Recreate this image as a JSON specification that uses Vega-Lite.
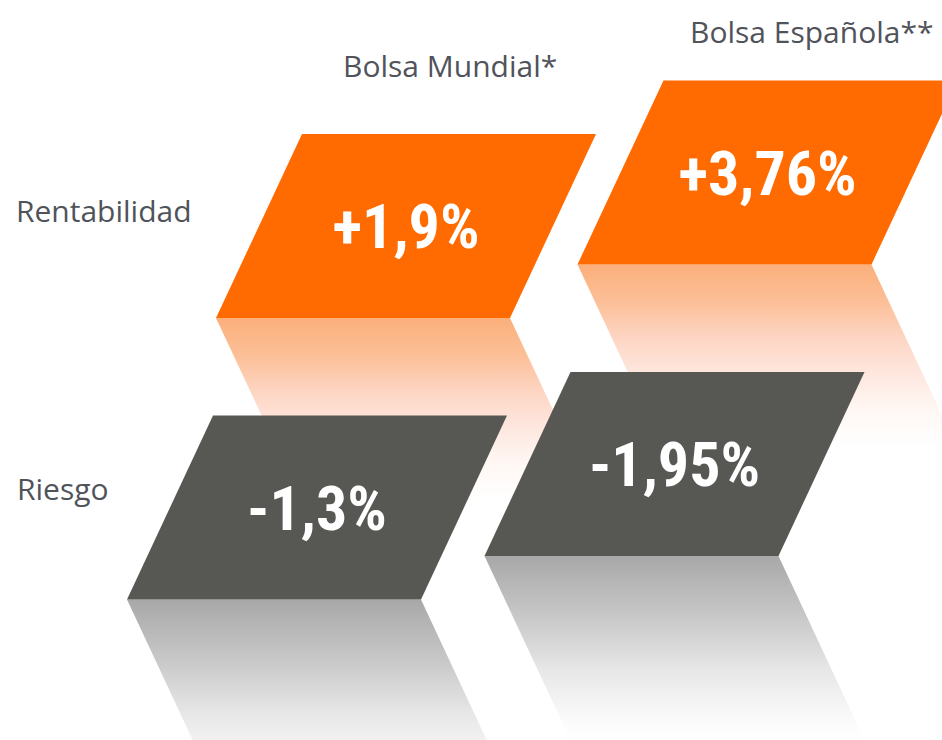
{
  "$schema": "https://vega.github.io/schema/vega-lite/v6.json",
  "width": 942,
  "height": 740,
  "autosize": {"type": "none"},
  "padding": 0,
  "background": "white",
  "config": {"view": {"stroke": null}},
  "datasets": {
    "celdas": [
      {"medida": "Rentabilidad", "mercado": "Bolsa Mundial*", "valor": "+1,9%"},
      {"medida": "Rentabilidad", "mercado": "Bolsa Española**", "valor": "+3,76%"},
      {"medida": "Riesgo", "mercado": "Bolsa Mundial*", "valor": "-1,3%"},
      {"medida": "Riesgo", "mercado": "Bolsa Española**", "valor": "-1,95%"}
    ],
    "mercados": [{"mercado": "Bolsa Mundial*"}, {"mercado": "Bolsa Española**"}],
    "medidas": [{"medida": "Rentabilidad"}, {"medida": "Riesgo"}]
  },
  "layer": [
    {
      "data": {"name": "celdas"},
      "transform": [{"filter": "datum.medida === 'Rentabilidad'"}],
      "encoding": {
        "x": {"field": "mercado", "type": "nominal", "axis": null, "scale": {"type": "point", "domain": ["Bolsa Mundial*", "Bolsa Española**"], "range": [406, 767.5], "padding": 0}},
        "y": {"field": "mercado", "type": "nominal", "axis": null, "scale": {"type": "point", "domain": ["Bolsa Mundial*", "Bolsa Española**"], "range": [226, 172.5], "padding": 0}}
      },
      "layer": [
        {
          "mark": {"type": "point", "shape": "M -0.95 0.46 L 0.52 0.46 L 0.95 1.38 L -0.52 1.38 Z", "size": 160000, "filled": true, "opacity": 1, "strokeWidth": 0,
            "fill": {"gradient": "linear", "x1": 0, "y1": 0, "x2": 0, "y2": 1, "stops": [
              {"offset": 0, "color": "#fbaf7b"},
              {"offset": 0.2, "color": "#fcbf97"},
              {"offset": 0.4, "color": "#fdd5c3"},
              {"offset": 0.57, "color": "#fee5dc"},
              {"offset": 0.8, "color": "#fff8f5"},
              {"offset": 1, "color": "#ffffff"}
            ]}},
          "encoding": {}
        },
        {
          "mark": {"type": "point", "shape": "M -0.52 -0.46 L 0.95 -0.46 L 0.52 0.46 L -0.95 0.46 Z", "size": 160000, "filled": true, "opacity": 1, "strokeWidth": 0, "fill": "#ff6b00"},
          "encoding": {}
        },
        {
          "mark": {"type": "text", "font": "Noto Sans ExtraCondensed, Noto Sans Condensed, Roboto Condensed, Roboto", "fontWeight": "bold", "fontSize": 62, "fill": "#ffffff", "align": "center", "baseline": "alphabetic", "dy": 22},
          "encoding": {"text": {"field": "valor", "type": "nominal"}}
        }
      ]
    },
    {
      "data": {"name": "celdas"},
      "transform": [{"filter": "datum.medida === 'Riesgo'"}],
      "encoding": {
        "x": {"field": "mercado", "type": "nominal", "axis": null, "scale": {"type": "point", "domain": ["Bolsa Mundial*", "Bolsa Española**"], "range": [317, 674.5], "padding": 0}},
        "y": {"field": "mercado", "type": "nominal", "axis": null, "scale": {"type": "point", "domain": ["Bolsa Mundial*", "Bolsa Española**"], "range": [507.5, 464], "padding": 0}}
      },
      "layer": [
        {
          "mark": {"type": "point", "shape": "M -0.95 0.46 L 0.52 0.46 L 0.95 1.38 L -0.52 1.38 Z", "size": 160000, "filled": true, "opacity": 1, "strokeWidth": 0,
            "fill": {"gradient": "linear", "x1": 0, "y1": 0, "x2": 0, "y2": 1, "stops": [
              {"offset": 0, "color": "#a8a8a8"},
              {"offset": 0.34, "color": "#c9c9c9"},
              {"offset": 0.61, "color": "#e6e6e6"},
              {"offset": 0.88, "color": "#fafafa"},
              {"offset": 1, "color": "#ffffff"}
            ]}},
          "encoding": {}
        },
        {
          "mark": {"type": "point", "shape": "M -0.52 -0.46 L 0.95 -0.46 L 0.52 0.46 L -0.95 0.46 Z", "size": 160000, "filled": true, "opacity": 1, "strokeWidth": 0, "fill": "#575753"},
          "encoding": {}
        },
        {
          "mark": {"type": "text", "font": "Noto Sans ExtraCondensed, Noto Sans Condensed, Roboto Condensed, Roboto", "fontWeight": "bold", "fontSize": 62, "fill": "#ffffff", "align": "center", "baseline": "alphabetic", "dy": 22},
          "encoding": {"text": {"field": "valor", "type": "nominal"}}
        }
      ]
    },
    {
      "data": {"name": "mercados"},
      "mark": {"type": "text", "font": "Open Sans", "fontSize": 30, "fill": "#50535a", "align": "left", "baseline": "alphabetic"},
      "encoding": {
        "x": {"field": "mercado", "type": "nominal", "axis": null, "scale": {"type": "point", "domain": ["Bolsa Mundial*", "Bolsa Española**"], "range": [343, 690], "padding": 0}},
        "y": {"field": "mercado", "type": "nominal", "axis": null, "scale": {"type": "point", "domain": ["Bolsa Mundial*", "Bolsa Española**"], "range": [77, 43], "padding": 0}},
        "text": {"field": "mercado", "type": "nominal"}
      }
    },
    {
      "data": {"name": "medidas"},
      "mark": {"type": "text", "font": "Open Sans", "fontSize": 30, "fill": "#50535a", "align": "left", "baseline": "alphabetic"},
      "encoding": {
        "x": {"field": "medida", "type": "nominal", "axis": null, "scale": {"type": "point", "domain": ["Rentabilidad", "Riesgo"], "range": [16, 17], "padding": 0}},
        "y": {"field": "medida", "type": "nominal", "axis": null, "scale": {"type": "point", "domain": ["Rentabilidad", "Riesgo"], "range": [222, 500], "padding": 0}},
        "text": {"field": "medida", "type": "nominal"}
      }
    }
  ],
  "resolve": {"scale": {"x": "independent", "y": "independent"}}
}
